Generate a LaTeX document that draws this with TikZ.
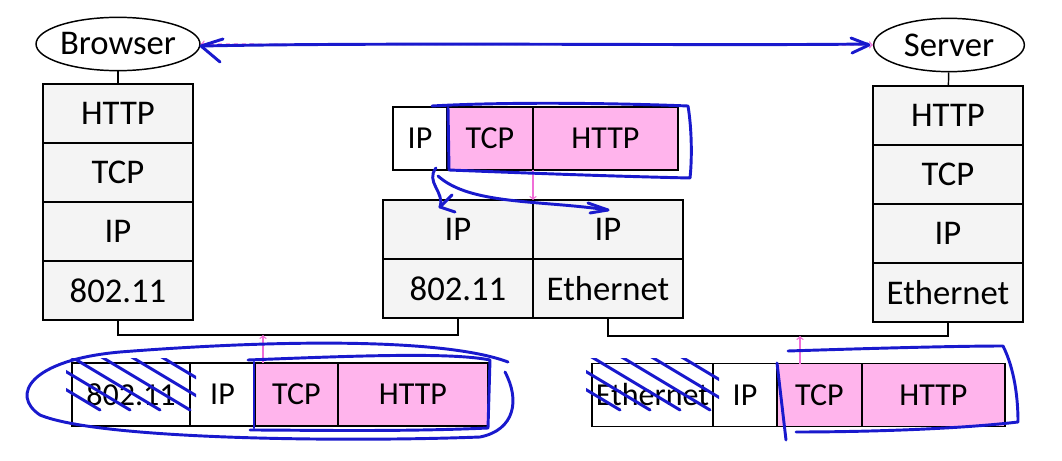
\documentclass[tikz,border=0pt]{standalone}
\usepackage{fontspec}
\setmainfont{Carlito}
\usetikzlibrary{arrows,positioning,shapes.geometric}
\definecolor{layergray}{RGB}{244,244,244}
\definecolor{payloadpink}{RGB}{255,180,236}
\definecolor{markpink}{RGB}{240,110,215}
\definecolor{penblue}{RGB}{25,25,205}

\begin{document}
\begin{tikzpicture}
    [
        x=0.75pt, y=-0.75pt,
        Host/.style={ellipse, draw, line width=1.1pt, minimum width=113pt, minimum height=40pt, inner sep=0pt, font=\fontsize{26}{30}\selectfont},
        Layer/.style={rectangle, draw, line width=1.1pt, fill=layergray, minimum width=112.5pt, minimum height=44.25pt, inner sep=0pt, outer sep=0pt, font=\fontsize{26}{30}\selectfont},
        Cell/.style={rectangle, draw, line width=1.1pt, fill=white, minimum height=47.25pt, inner sep=0pt, outer sep=0pt, font=\fontsize{24}{28}\selectfont},
        Payload/.style={Cell, fill=payloadpink},
        Link/.style={line width=1.1pt},
        Hop/.style={->, markpink, line width=1pt},
        Pen/.style={penblue, line width=2.2pt, line cap=round, line join=round}
    ]
    \useasboundingbox (0,0) rectangle (1062,460);

    \node[Host] (browser) at (118,44) {Browser};
    \node[Layer] (browser_http) at (118,113.5) {HTTP};
    \node[Layer,below=0pt of browser_http] (browser_tcp) {TCP};
    \node[Layer,below=0pt of browser_tcp] (browser_ip) {IP};
    \node[Layer,below=0pt of browser_ip] (browser_80211) {802.11};

    \node[Host] (server) at (949,45) {Server};
    \node[Layer] (server_http) at (948,115.5) {HTTP};
    \node[Layer,below=0pt of server_http] (server_tcp) {TCP};
    \node[Layer,below=0pt of server_tcp] (server_ip) {IP};
    \node[Layer,below=0pt of server_ip] (server_ethernet) {Ethernet};

    \node[Layer] (router_ip_wifi) at (458,229.5) {IP};
    \node[Layer,below=0pt of router_ip_wifi] (router_80211) {802.11};
    \node[Layer,right=0pt of router_ip_wifi] (router_ip_eth) {IP};
    \node[Layer,below=0pt of router_ip_eth] (router_ethernet) {Ethernet};

    \node[Cell,minimum width=40.5pt] (fwd_ip) at (420,138.5) {IP};
    \node[Payload,minimum width=64.5pt,right=0pt of fwd_ip] (fwd_tcp) {TCP};
    \node[Payload,minimum width=108.75pt,right=0pt of fwd_tcp] (fwd_http) {HTTP};

    \node[Cell,minimum width=88.5pt] (wifi_80211) at (131,394.5) {802.11};
    \node[Cell,minimum width=48.75pt,right=0pt of wifi_80211] (wifi_ip) {IP};
    \node[Payload,minimum width=62.25pt,right=0pt of wifi_ip] (wifi_tcp) {TCP};
    \node[Payload,minimum width=112.5pt,right=0pt of wifi_tcp] (wifi_http) {HTTP};

    \node[Cell,minimum width=90.75pt] (eth_ethernet) at (652.5,395) {Ethernet};
    \node[Cell,minimum width=48pt,right=0pt of eth_ethernet] (eth_ip) {IP};
    \node[Payload,minimum width=63.75pt,right=0pt of eth_ip] (eth_tcp) {TCP};
    \node[Payload,minimum width=107.25pt,right=0pt of eth_tcp] (eth_http) {HTTP};

    \coordinate (wifi_link) at (263,335);
    \coordinate (eth_link) at (800,336);

    \draw[Link] (browser) -- (browser_http);
    \draw[Link] (server) -- (server_http);
    \draw[Link] (browser_80211.south) |- (wifi_link) -| (router_80211.south);
    \draw[Link] (router_ethernet.south) |- (eth_link) -| (server_ethernet.south);

    \draw[Hop] (fwd_http.south west) -- (router_ip_wifi.north east);
    \draw[Hop] (wifi_link |- wifi_tcp.north) -- (wifi_link);
    \draw[Hop] (eth_link |- eth_tcp.north) -- (eth_link);
    \draw[Hop, <->, dashed] (browser) -- (server);

    \draw[Pen] (202,46) .. controls (400,42) and (700,46) .. (868,44);
    \draw[Pen] (223,39) -- (201,46) -- (220,62);
    \draw[Pen] (851,38) -- (869,45) -- (852,53);

    \draw[Pen] (432,106) .. controls (520,101) and (640,104) .. (688,106) .. controls (692,130) and (692,160) .. (690,178) .. controls (600,176) and (500,172) .. (449,170) -- (448,108);
    \draw[Pen] (436,168) .. controls (425,182) and (445,192) .. (440,207);
    \draw[Pen] (452,195) -- (440,207) -- (455,212);
    \draw[Pen] (438,176) .. controls (470,205) and (540,200) .. (608,210);
    \draw[Pen] (588,203) -- (608,210) -- (590,213);

    \begin{scope}
        \clip (66,358) rectangle (196,432);
        \foreach \s in {-40,-10,20,50,80,110}
            \draw[Pen] (\s+40,350) -- ++(100,60);
    \end{scope}
    \begin{scope}
        \clip (586,358) rectangle (719,432);
        \foreach \s in {-40,-10,20,50,80,110}
            \draw[Pen] (\s+560,350) -- ++(100,60);
    \end{scope}

    \draw[Pen] (505,372) .. controls (520,400) and (515,430) .. (480,437) .. controls (350,442) and (100,440) .. (40,415) .. controls (10,395) and (30,360) .. (120,352) .. controls (300,338) and (450,340) .. (508,362);
    \draw[Pen] (248,360) .. controls (350,356) and (450,352) .. (490,360) -- (488,428) .. controls (400,432) and (300,430) .. (250,430);
    \draw[Pen] (254,362) -- (254,428);

    \draw[Pen] (788,351) .. controls (850,349) and (950,346) .. (1003,346) .. controls (1015,370) and (1018,400) .. (1018,422) .. controls (950,430) and (850,432) .. (796,432);
    \draw[Pen] (777,363) -- (786,440);
\end{tikzpicture}
\end{document}
